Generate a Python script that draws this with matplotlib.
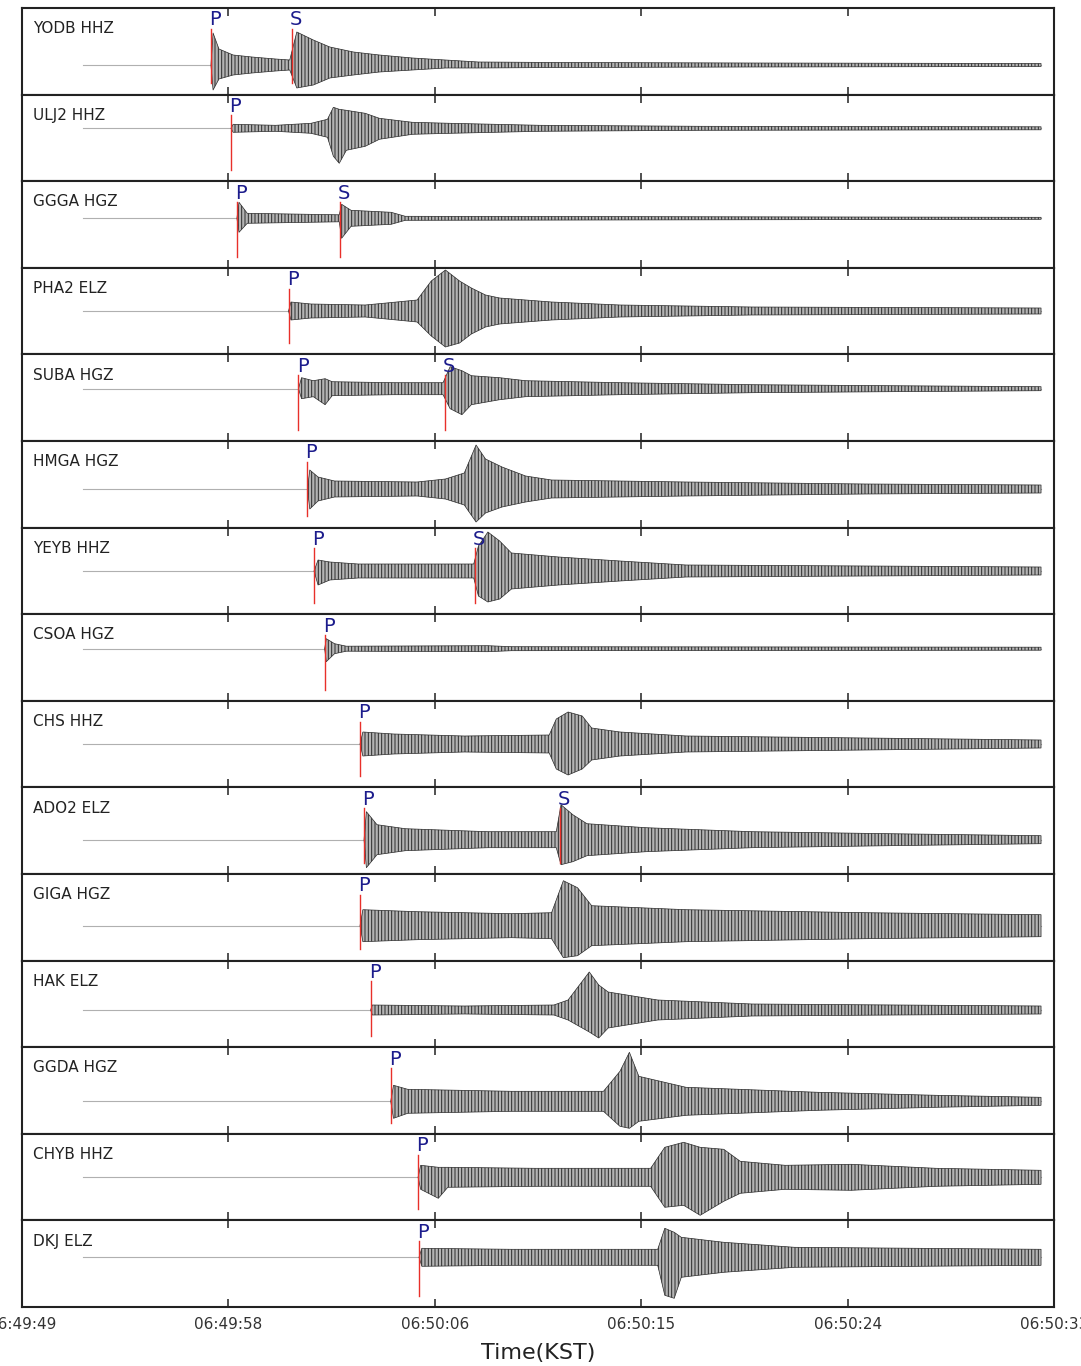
import numpy as np
import matplotlib.pyplot as plt
from matplotlib.ticker import FuncFormatter

# station names, top to bottom
stations = ["YODB HHZ", "ULJ2 HHZ", "GGGA HGZ", "PHA2 ELZ", "SUBA HGZ",
            "HMGA HGZ", "YEYB HHZ", "CSOA HGZ", "CHS HHZ", "ADO2 ELZ",
            "GIGA HGZ", "HAK ELZ", "GGDA HGZ", "CHYB HHZ", "DKJ ELZ"]

# picks, seconds after 06:49:00 KST
p_times = [57.26, 58.11, 58.36, 60.55, 60.97, 61.35, 61.63, 62.08,
           63.58, 63.75, 63.58, 64.03, 64.88, 66.04, 66.08]
s_times = [60.68, None, 62.73, None, 67.20, None, 68.45, None,
           None, 72.04, None, None, None, None, None]

# trace offset (px below panel top)
offsets = [57, 33.7, 37.1, 43.2, 34.3, 48, 43.4, 34.5,
           43.2, 52.3, 51.7, 49.4, 54.1, 43.5, 36.9]

# amplitude envelopes: (time, up, down)
env_yodb = [(51.84, 0, 0), (57.26, 0, 0), (57.35, 32, 25), (57.6, 16, 14), (58.2, 10, 10),
            (59.0, 8, 8), (60.0, 6, 6), (60.6, 5, 5), (60.9, 33, 23), (61.6, 25, 20),
            (62.3, 18, 13), (63.3, 13, 10), (64.4, 10, 7), (65.8, 7, 5), (67.2, 5, 3),
            (68.6, 3, 3), (72.0, 2.5, 2.5), (80.0, 2, 2), (92.45, 1.5, 1.5)]
env_ulj2 = [(51.84, 0, 0), (58.11, 0, 0), (58.2, 4, 4), (60.0, 3, 3), (61.5, 5, 5),
            (62.2, 9, 9), (62.45, 21, 28), (62.7, 19, 35), (63.0, 18, 22), (63.8, 15, 18),
            (64.4, 10, 11), (65.8, 6, 6), (67.4, 5, 5), (71.2, 3, 3), (78.0, 2, 2),
            (92.45, 1.5, 1.5)]
env_ggga = [(51.84, 0, 0), (58.36, 0, 0), (58.45, 16, 14), (58.8, 5, 5), (62.7, 3.5, 3.5),
            (62.8, 14, 20), (63.2, 8, 8), (64.9, 6, 6), (65.5, 2, 2), (92.45, 1, 1)]
env_pha2 = [(51.84, 0, 0), (60.55, 0, 0), (60.65, 9, 9), (61.5, 7, 7), (63.8, 6, 6),
            (64.7, 8, 8), (66.0, 11, 11), (66.6, 30, 25), (67.2, 41, 36), (67.8, 30, 32),
            (68.3, 23, 23), (68.9, 16, 16), (69.5, 13, 13), (71.7, 9, 9), (74.6, 6, 6),
            (80.2, 4, 4), (92.45, 3, 3)]
env_suba = [(51.84, 0, 0), (60.97, 0, 0), (61.1, 11, 10), (61.6, 8, 8), (62.1, 10, 16),
            (62.4, 7, 7), (65.0, 6, 6), (67.1, 6, 6), (67.4, 22, 20), (67.9, 18, 26),
            (68.3, 13, 16), (69.5, 11, 11), (70.6, 8, 8), (74.6, 6, 6), (80.2, 4, 4),
            (86.0, 3, 3), (92.45, 2, 2)]
env_hmga = [(51.84, 0, 0), (61.35, 0, 0), (61.45, 19, 20), (61.8, 12, 12), (62.5, 8, 8),
            (66.0, 7, 7), (67.2, 10, 10), (68.0, 16, 16), (68.5, 44, 33), (68.9, 30, 24),
            (69.6, 22, 18), (70.6, 13, 13), (71.7, 9, 9), (77.4, 7, 7), (85.0, 5, 5),
            (92.45, 4, 4)]
env_yeyb = [(51.84, 0, 0), (61.63, 0, 0), (61.8, 11, 14), (62.3, 9, 9), (63.5, 7, 7),
            (68.4, 7, 7), (68.6, 25, 25), (69.0, 39, 31), (69.5, 30, 28), (70.0, 18, 18),
            (72.0, 14, 14), (74.6, 10, 10), (77.4, 6, 6), (85.0, 5, 5), (92.45, 4, 4)]
env_csoa = [(51.84, 0, 0), (62.08, 0, 0), (62.15, 10, 13), (62.5, 5, 5), (63.0, 2.5, 2.5),
            (69.0, 3, 3), (70.0, 2, 2), (92.45, 1.5, 1.5)]
env_chs = [(51.84, 0, 0), (63.58, 0, 0), (63.7, 12, 12), (65.0, 10, 10), (68.0, 8, 8),
           (71.6, 9, 9), (71.9, 25, 25), (72.4, 32, 31), (73.0, 28, 25), (73.4, 16, 16),
           (74.6, 12, 12), (77.4, 8, 8), (85.0, 6, 6), (92.45, 4, 4)]
env_ado2 = [(51.84, 0, 0), (63.75, 0, 0), (63.85, 28, 28), (64.3, 15, 15), (65.5, 11, 11),
            (69.0, 8, 8), (71.9, 8, 8), (72.1, 35, 25), (72.6, 25, 22), (73.2, 16, 16),
            (75.7, 12, 12), (80.2, 8, 8), (86.0, 6, 6), (92.45, 4, 4)]
env_giga = [(51.84, 0, 0), (63.58, 0, 0), (63.7, 16, 16), (66.0, 14, 14), (70.0, 12, 12),
            (71.7, 13, 13), (72.2, 45, 32), (72.8, 38, 30), (73.4, 20, 20), (77.4, 16, 16),
            (85.0, 13, 13), (92.45, 11, 11)]
env_hak = [(51.84, 0, 0), (64.03, 0, 0), (64.1, 5, 5), (68.0, 4, 4), (71.8, 5, 5),
           (72.4, 10, 10), (73.3, 38, 22), (73.7, 25, 28), (74.1, 18, 18), (76.2, 10, 10),
           (80.2, 6, 6), (92.45, 4, 4)]
env_ggda = [(51.84, 0, 0), (64.88, 0, 0), (65.0, 16, 17), (65.6, 12, 12), (70.0, 10, 10),
            (73.9, 10, 10), (74.6, 30, 25), (75.0, 49, 27), (75.4, 25, 20), (77.4, 14, 14),
            (83.0, 9, 9), (88.0, 6, 6), (92.45, 4, 4)]
env_chyb = [(51.84, 0, 0), (66.04, 0, 0), (66.15, 12, 12), (66.9, 10, 21), (67.3, 10, 10),
            (71.0, 9, 9), (75.9, 9, 9), (76.5, 30, 30), (77.3, 35, 28), (78.0, 30, 38),
            (79.0, 28, 24), (79.7, 16, 16), (81.6, 12, 12), (84.4, 13, 13), (88.0, 9, 9),
            (92.45, 7, 7)]
env_dkj = [(51.84, 0, 0), (66.08, 0, 0), (66.2, 9, 9), (70.0, 8, 8), (76.2, 8, 8),
           (76.5, 29, 38), (76.9, 25, 41), (77.2, 20, 20), (79.0, 15, 15), (82.0, 10, 10),
           (92.45, 8, 8)]

envs = [env_yodb, env_ulj2, env_ggga, env_pha2, env_suba, env_hmga, env_yeyb, env_csoa,
        env_chs, env_ado2, env_giga, env_hak, env_ggda, env_chyb, env_dkj]

t_start, t_end = 49.25, 93.0
tick_step = 8.75
panel_h = 86.6

plt.rcParams['hatch.linewidth'] = 0.7


def kst(v, pos=None):
    s = int(v)
    return "06:%02d:%02d" % (49 + s // 60, s % 60)


fig, axes = plt.subplots(len(stations), 1, figsize=(10.81, 13.66), dpi=100, sharex=True)
plt.subplots_adjust(left=22/1081, right=1054/1081, top=1-8/1366, bottom=1-1307/1366, hspace=0)

for ax, name, tp, ts, off, env in zip(axes, stations, p_times, s_times, offsets, envs):
    t, up, dn = np.array(env, dtype=float).T
    ax.plot(t, np.zeros_like(t), color='#b0b0b0', lw=0.8, zorder=1)
    # dense trace drawn as a hatched envelope, from the P arrival on
    m = t >= tp
    ax.fill_between(t[m], -dn[m], up[m], facecolor='#b4b4b4', edgecolor='#2a2a2a',
                    hatch='|||||', lw=0.5, zorder=2)
    ax.set_ylim(off - panel_h, off)

    for ph, tt in (("P", tp), ("S", ts)):
        if tt is None:
            continue
        ax.axvline(tt, ymin=0.13, ymax=0.76, color='#e8302a', lw=1.0, zorder=3)
        ax.text(tt + 0.17, 0.80, ph, transform=ax.get_xaxis_transform(), ha='center',
                va='baseline', fontsize=14, color='#1c1c8c', zorder=4)

    ax.text(0.0105, 0.71, name, transform=ax.transAxes, fontsize=11, color='#222222',
            va='baseline', ha='left')
    ax.set_yticks([])
    for sp in ax.spines.values():
        sp.set_linewidth(1.5)
        sp.set_color('#222222')
    ax.tick_params(axis='x', direction='in', top=True, bottom=True, length=6, width=1.2,
                   color='#333333', labelsize=11, labelcolor='#333333', pad=7)

axes[-1].set_xlim(t_start, t_end)
axes[-1].set_xticks(np.arange(t_start, t_end + 0.01, tick_step))
axes[-1].xaxis.set_major_formatter(FuncFormatter(kst))
axes[-1].set_xlabel("Time(KST)", fontsize=16, color='#222222', labelpad=8)

plt.savefig("out.png", dpi=100)
